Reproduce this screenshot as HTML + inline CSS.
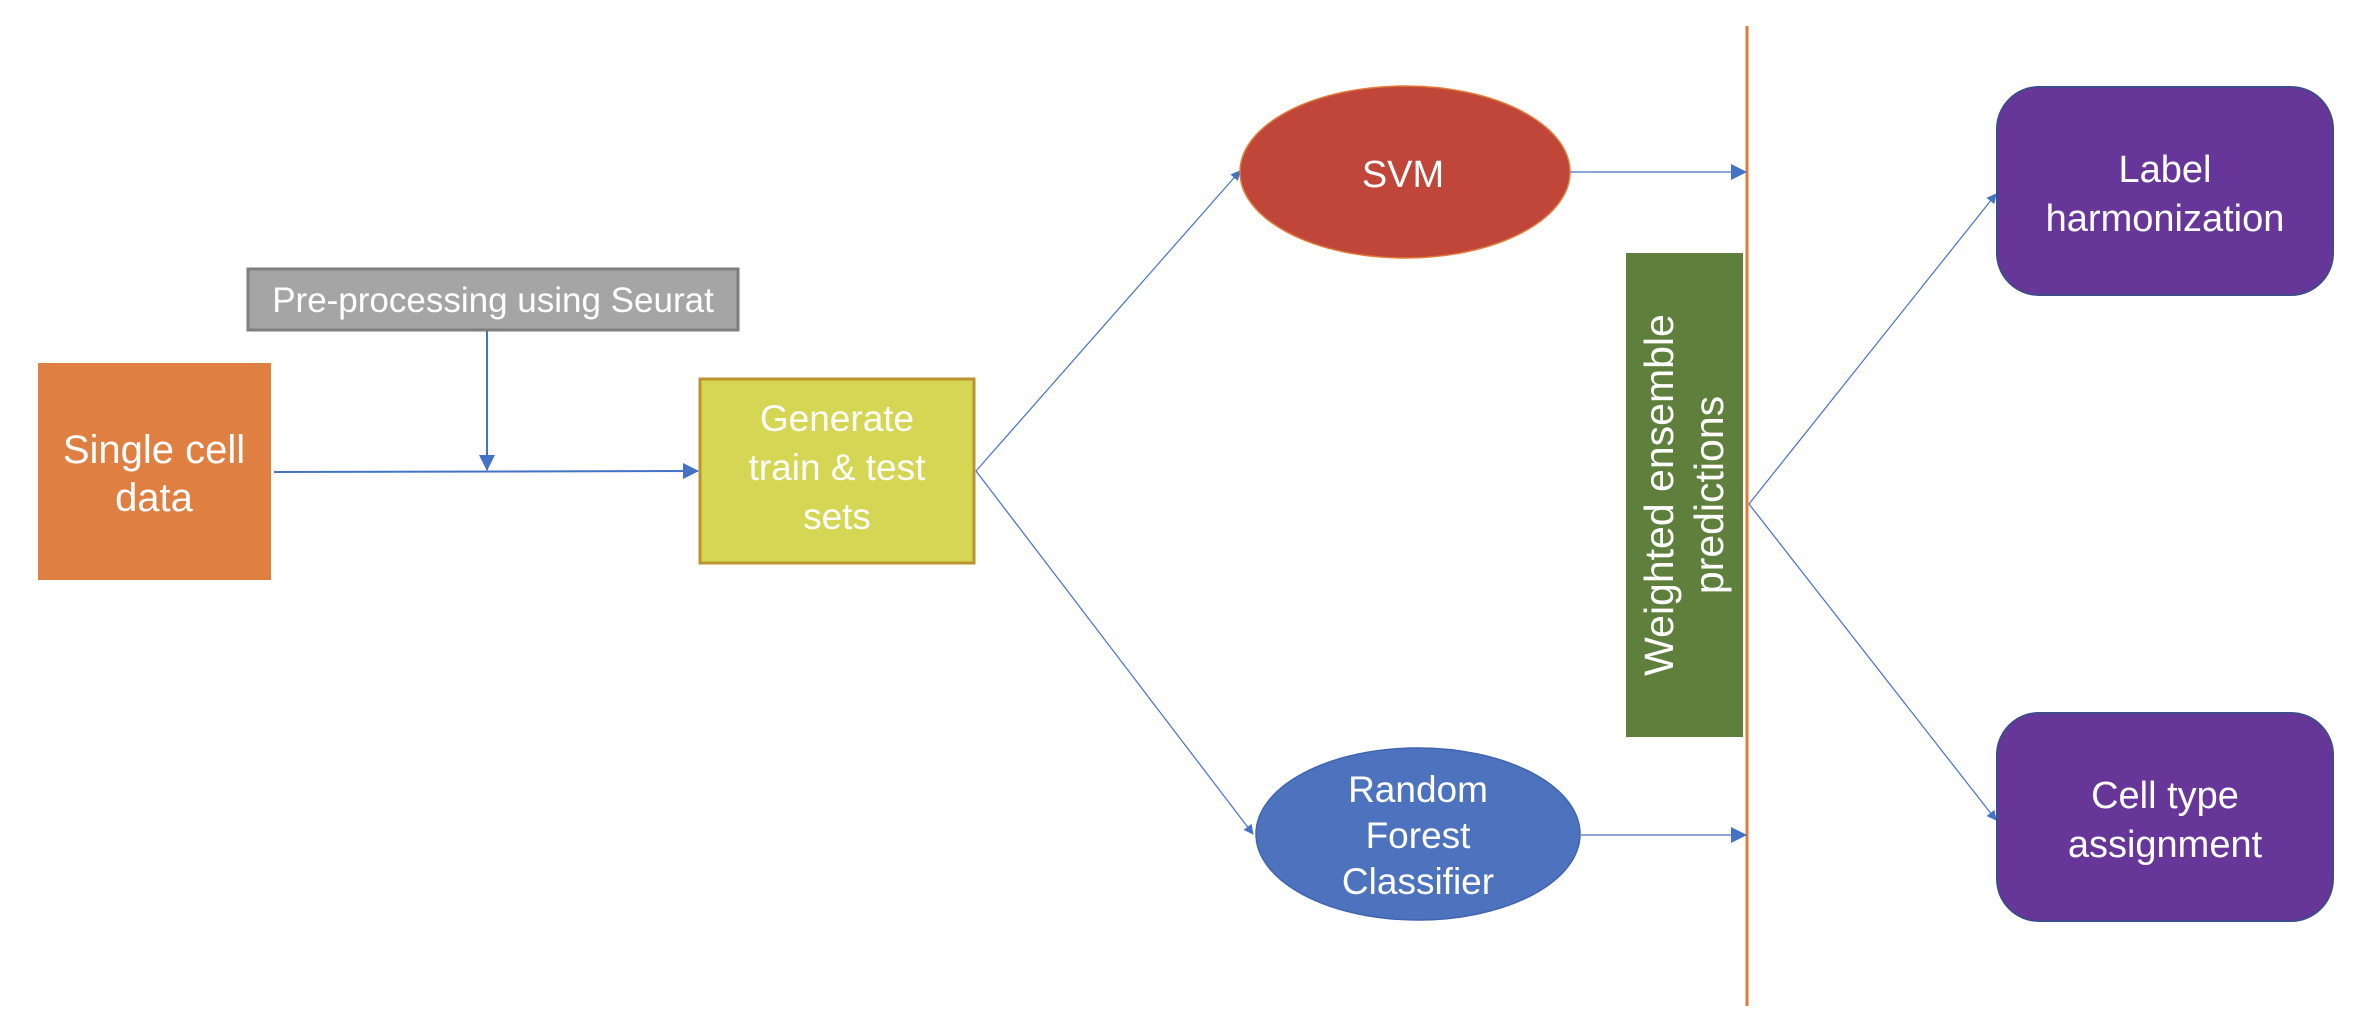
<!DOCTYPE html>
<html><head><meta charset="utf-8"><style>
html,body{margin:0;padding:0;background:#fff;}
body{width:2372px;height:1026px;overflow:hidden;}
text{font-family:"Liberation Sans",Arial,sans-serif;fill:#fff;}
</style></head><body>
<svg width="2372" height="1026" viewBox="0 0 2372 1026" xmlns="http://www.w3.org/2000/svg">
<defs>
<marker id="a" markerWidth="10" markerHeight="10" refX="9" refY="5" orient="auto" markerUnits="userSpaceOnUse"><path d="M0,0 L10,5 L0,10 z" fill="#4472c4"/></marker>
<marker id="b" markerWidth="16" markerHeight="16" refX="15" refY="8" orient="auto" markerUnits="userSpaceOnUse"><path d="M0,0 L16,8 L0,16 z" fill="#4472c4"/></marker>
</defs>
<line x1="1747" y1="26" x2="1747" y2="1006" stroke="#e07b39" stroke-width="3"/>
<rect x="248" y="269" width="490" height="61" fill="#a5a5a5" stroke="#7f7f7f" stroke-width="3"/>
<text x="493" y="312" font-size="35" text-anchor="middle">Pre-processing using Seurat</text>
<rect x="38" y="363" width="233" height="217" fill="#e07f42"/>
<text x="154" y="463" font-size="40" text-anchor="middle">Single cell</text>
<text x="154" y="511" font-size="40" text-anchor="middle">data</text>
<rect x="700" y="379" width="274" height="184" fill="#d5d653" stroke="#bb9430" stroke-width="3"/>
<text x="837" y="431" font-size="37" text-anchor="middle">Generate</text>
<text x="837" y="480" font-size="37" text-anchor="middle">train &amp; test</text>
<text x="837" y="529" font-size="37" text-anchor="middle">sets</text>
<line x1="274" y1="472" x2="698" y2="471" stroke="#4472c4" stroke-width="2" marker-end="url(#b)"/>
<line x1="487" y1="331" x2="487" y2="470" stroke="#4472c4" stroke-width="2" marker-end="url(#b)"/>
<line x1="976" y1="471" x2="1240" y2="171" stroke="#4472c4" stroke-width="1.2" marker-end="url(#a)"/>
<line x1="976" y1="471" x2="1253" y2="834" stroke="#4472c4" stroke-width="1.2" marker-end="url(#a)"/>
<line x1="1570" y1="172" x2="1746" y2="172" stroke="#4472c4" stroke-width="1.2" marker-end="url(#b)"/>
<line x1="1581" y1="835" x2="1746" y2="835" stroke="#4472c4" stroke-width="1.2" marker-end="url(#b)"/>
<line x1="1749" y1="504" x2="1996" y2="194" stroke="#4472c4" stroke-width="1.2" marker-end="url(#a)"/>
<line x1="1749" y1="504" x2="1996" y2="820" stroke="#4472c4" stroke-width="1.2" marker-end="url(#a)"/>
<ellipse cx="1405" cy="172" rx="165" ry="86" fill="#c0463a" stroke="#e07b39" stroke-width="1.5"/>
<text x="1403" y="187" font-size="38" text-anchor="middle">SVM</text>
<ellipse cx="1418" cy="834" rx="162" ry="86" fill="#4e73be" stroke="#3f64b0" stroke-width="1.5"/>
<text x="1418" y="802" font-size="37" text-anchor="middle">Random</text>
<text x="1418" y="848" font-size="37" text-anchor="middle">Forest</text>
<text x="1418" y="894" font-size="37" text-anchor="middle">Classifier</text>
<rect x="1626" y="253" width="117" height="484" fill="#5f7f3d"/>
<g transform="translate(1685,495) rotate(-90)">
<text x="0" y="-12" font-size="41" text-anchor="middle">Weighted ensemble</text>
<text x="0" y="38" font-size="41" text-anchor="middle">predictions</text>
</g>
<rect x="1997" y="87" width="336" height="208" rx="42" fill="#673699" stroke="#3f4a8a" stroke-width="2"/>
<text x="2165" y="182" font-size="38" text-anchor="middle">Label</text>
<text x="2165" y="231" font-size="38" text-anchor="middle">harmonization</text>
<rect x="1997" y="713" width="336" height="208" rx="42" fill="#673699" stroke="#3f4a8a" stroke-width="2"/>
<text x="2165" y="808" font-size="38" text-anchor="middle">Cell type</text>
<text x="2165" y="857" font-size="38" text-anchor="middle">assignment</text>
</svg>
</body></html>
